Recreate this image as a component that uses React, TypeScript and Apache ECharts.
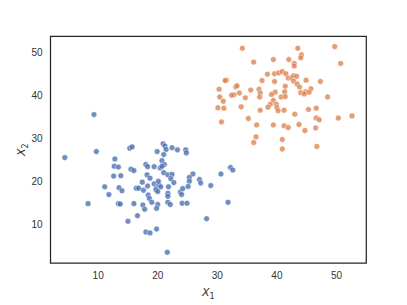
import React, { useEffect, useRef } from "react";
import * as echarts from "echarts";

// Cluster 0 (blue)
const clusterBlue: [number, number][] = [
  [9.3, 35.6], [4.4, 25.6], [9.7, 27.0], [12.8, 25.3], [15.3, 27.8], [15.7, 28.1],
  [19.9, 27.0], [20.9, 28.8], [21.2, 28.3], [21.4, 27.5], [21.0, 26.3], [22.4, 27.9],
  [23.3, 27.4], [24.7, 27.4], [24.8, 26.7], [20.7, 24.9], [12.7, 23.6], [13.4, 23.4],
  [15.5, 22.9], [16.0, 22.6], [18.0, 24.0], [18.3, 23.5], [19.4, 23.5], [21.1, 24.0],
  [20.4, 23.2], [20.7, 23.6], [21.0, 22.1], [21.7, 21.6], [22.4, 21.7], [22.2, 20.7],
  [22.7, 19.8], [25.9, 21.8], [25.3, 21.0], [25.3, 20.1], [27.0, 20.5], [27.2, 19.7],
  [12.6, 21.3], [13.8, 21.4], [11.1, 18.8], [13.5, 18.6], [14.0, 17.9], [11.8, 17.0],
  [16.4, 18.5], [16.8, 18.5], [17.4, 19.9], [17.6, 18.0], [18.2, 21.6], [18.7, 20.8],
  [18.3, 19.0], [19.4, 19.5], [19.8, 18.6], [20.2, 19.3], [20.5, 18.8], [19.7, 18.1],
  [20.0, 17.7], [20.1, 20.1], [18.4, 16.9], [18.6, 16.1], [19.0, 15.2], [20.0, 14.7],
  [19.8, 13.8], [21.8, 18.8], [21.7, 17.3], [21.7, 16.6], [21.7, 15.2], [22.1, 14.7],
  [23.8, 17.6], [24.2, 18.4], [24.0, 17.0], [25.1, 18.9], [24.1, 15.0], [24.9, 15.0],
  [16.0, 14.9], [17.5, 14.6], [17.8, 13.6], [13.4, 14.9], [13.7, 14.8], [8.3, 14.9],
  [16.6, 12.1], [15.0, 10.8], [18.0, 8.3], [18.7, 8.1], [19.8, 9.0], [21.6, 3.6],
  [32.2, 23.3], [32.6, 22.7], [30.6, 21.8], [28.9, 19.1], [31.8, 15.2], [28.2, 11.4],
];

// Cluster 1 (orange)
const clusterOrange: [number, number][] = [
  [34.2, 51.0], [43.5, 51.0], [49.7, 51.4], [44.1, 49.5], [44.0, 48.8], [36.1, 47.8],
  [39.4, 48.4], [42.0, 48.4], [42.9, 47.5], [42.9, 46.9], [50.7, 47.5], [38.4, 45.0],
  [39.6, 45.1], [40.3, 45.3], [40.9, 45.6], [41.5, 45.1], [41.9, 44.1], [42.5, 44.1],
  [42.8, 44.6], [43.3, 44.5], [42.8, 43.4], [43.4, 42.7], [43.8, 42.0], [44.9, 43.6],
  [47.3, 43.3], [31.5, 43.6], [31.3, 43.5], [37.5, 43.5], [39.6, 43.3], [41.4, 42.2],
  [30.3, 41.5], [33.1, 42.0], [33.3, 42.3], [35.6, 41.3], [37.0, 41.5], [45.7, 41.6],
  [33.7, 40.6], [32.8, 40.2], [32.4, 40.1], [37.2, 40.6], [39.7, 40.8], [41.3, 40.9],
  [44.0, 40.7], [44.8, 40.9], [45.4, 40.8], [44.6, 40.4], [30.4, 39.7], [34.7, 39.5],
  [37.1, 39.7], [39.1, 40.3], [40.7, 39.7], [41.4, 39.8], [48.5, 39.7], [31.0, 38.7],
  [39.4, 38.9], [38.9, 38.0], [39.9, 38.0], [38.5, 37.3], [40.0, 37.2], [40.2, 36.5],
  [30.1, 37.2], [31.1, 37.1], [34.0, 37.4], [37.2, 36.6], [41.2, 36.6], [45.3, 36.8],
  [46.6, 37.1], [43.0, 35.7], [35.2, 34.7], [46.6, 34.8], [47.1, 34.4], [50.3, 34.8],
  [52.6, 35.3], [30.7, 33.9], [36.6, 33.2], [39.4, 33.2], [41.2, 33.0], [41.9, 32.6],
  [43.7, 33.3], [44.7, 31.9], [46.5, 32.5], [36.5, 30.4], [36.1, 29.1], [40.9, 29.8],
  [40.9, 27.6], [46.7, 28.2],
];

const xTicks = [10, 20, 30, 40, 50];
const yTicks = [10, 20, 30, 40, 50];

const FONT = "'Liberation Sans', Arial, 'DejaVu Sans', sans-serif";

export default function App() {
  const ref = useRef<HTMLDivElement>(null);
  useEffect(() => {
    if (!ref.current) return;
    const chart = echarts.init(ref.current, undefined, { renderer: "svg" });
    const nameRich = {
      x: { fontFamily: "'DejaVu Sans', sans-serif", fontStyle: "italic", fontSize: 11, color: "#333333", lineHeight: 16, verticalAlign: "middle" },
      s: { fontFamily: "'DejaVu Sans', sans-serif", fontSize: 8, color: "#333333", lineHeight: 16, verticalAlign: "bottom", padding: [6, 0, 0, 0] },
    };
    chart.setOption({
      animation: false,
      backgroundColor: "#ffffff",
      grid: {
        left: 50.5,
        top: 36.3,
        right: 40.7,
        bottom: 33.7,
        show: true,
        borderColor: "#262626",
        borderWidth: 1.25,
        backgroundColor: "transparent",
      },
      xAxis: {
        type: "value",
        min: 2.0,
        max: 55.0,
        axisLine: { show: false },
        axisTick: { show: false },
        splitLine: { show: false },
        axisLabel: {
          customValues: xTicks,
          color: "#333333",
          fontSize: 10,
          fontFamily: FONT,
          margin: 7,
        },
        name: "{x|X}{s|1}",
        nameLocation: "middle",
        nameGap: 21,
        nameMoveOverlap: false,
        nameTextStyle: { rich: nameRich },
      },
      yAxis: {
        type: "value",
        min: 1.1,
        max: 53.8,
        axisLine: { show: false },
        axisTick: { show: false },
        splitLine: { show: false },
        axisLabel: {
          customValues: yTicks,
          color: "#333333",
          fontSize: 10,
          fontFamily: FONT,
          margin: 8,
        },
        name: "{x|X}{s|2}",
        nameLocation: "middle",
        nameGap: 21,
        nameRotate: 90,
        nameMoveOverlap: false,
        nameTextStyle: { rich: nameRich },
      },
      series: [
        {
          type: "scatter",
          data: clusterBlue,
          symbol: "circle",
          symbolSize: 5.8,
          itemStyle: { color: "#4c72b0", borderColor: "#ffffff", borderWidth: 0.6 },
        },
        {
          type: "scatter",
          data: clusterOrange,
          symbol: "circle",
          symbolSize: 5.8,
          itemStyle: { color: "#dd8452", borderColor: "#ffffff", borderWidth: 0.6 },
        },
      ],
    });
    return () => chart.dispose();
  }, []);
  return (
    <div
      ref={ref}
      style={{ position: "fixed", left: 0, top: 0, width: 407, height: 305 }}
    />
  );
}
